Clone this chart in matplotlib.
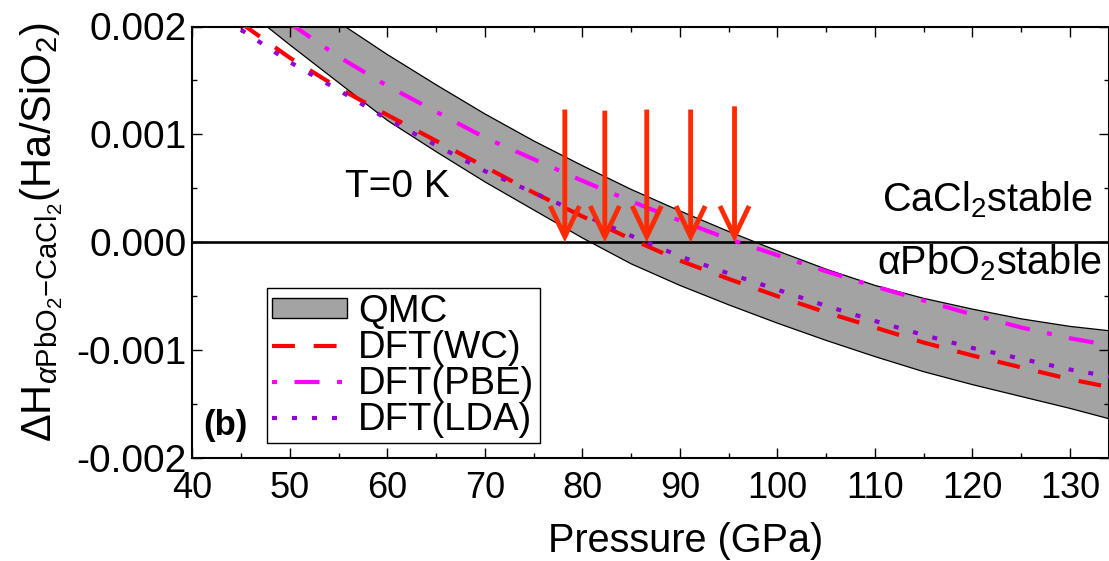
import matplotlib
matplotlib.use("Agg")
import matplotlib.pyplot as plt
from matplotlib.patches import Patch
from matplotlib.lines import Line2D

plt.rcParams['font.family'] = ['Liberation Sans', 'DejaVu Sans']
plt.rcParams['mathtext.fontset'] = 'custom'
plt.rcParams['mathtext.rm'] = 'Liberation Sans'
plt.rcParams['mathtext.it'] = 'Liberation Sans:italic'
plt.rcParams['mathtext.bf'] = 'Liberation Sans:bold'

# ---- data ----
pressure = [45, 50, 55, 60, 65, 70, 75, 80, 85, 90, 95, 100, 105, 110, 115, 120, 125, 130, 135]
qmc_upper = [0.00270, 0.00236, 0.00204, 0.00174, 0.00146, 0.00119, 0.00094, 0.00071, 0.00049,
             0.00029, 0.00010, -0.00008, -0.00025, -0.00040, -0.00052, -0.00062, -0.00071,
             -0.00078, -0.00083]
qmc_lower = [0.00219, 0.00183, 0.00148, 0.00113, 0.00084, 0.00056, 0.00030, 0.00004, -0.00020,
             -0.00040, -0.00058, -0.00075, -0.00091, -0.00106, -0.00120, -0.00132, -0.00143,
             -0.00154, -0.00166]
dft_wc = [0.00203, 0.00171, 0.00143, 0.00118, 0.00094, 0.00070, 0.00046, 0.00024, 0.00003,
          -0.00017, -0.00034, -0.00050, -0.00065, -0.00079, -0.00093, -0.00105, -0.00116,
          -0.00127, -0.00136]
dft_lda = [0.00197, 0.00167, 0.00141, 0.00114, 0.00090, 0.00066, 0.00046, 0.00026, 0.00006,
           -0.00013, -0.00029, -0.00044, -0.00059, -0.00073, -0.00086, -0.00098, -0.00108,
           -0.00118, -0.00126]
pbe_pressure = [50, 55, 60, 65, 70, 75, 80, 85, 90, 95, 100, 105, 110, 115, 120, 125, 130, 135]
dft_pbe = [0.00203, 0.00172, 0.00145, 0.00121, 0.00097, 0.00077, 0.00057, 0.00038, 0.00020,
           0.00003, -0.00012, -0.00027, -0.00041, -0.00054, -0.00067, -0.00079, -0.00089,
           -0.00097]
arrow_pressures = [78.2, 82.3, 86.6, 91.1, 95.6]
arrow_tops = [0.00123, 0.00122, 0.00123, 0.00123, 0.00126]

xticks = [40, 50, 60, 70, 80, 90, 100, 110, 120, 130]
yticks = [-0.002, -0.001, 0.0, 0.001, 0.002]
ytick_labels = ["-0.002", "-0.001", "0.000", "0.001", "0.002"]

# ---- figure ----
W, H = 1109, 561
fig = plt.figure(figsize=(W / 100, H / 100), dpi=100)
ax = fig.add_axes([192.3 / W, 1 - 458 / H, (1109 - 192.3) / W, (458 - 26.5) / H])

gray = '#a3a3a3'
ax.fill_between(pressure, qmc_lower, qmc_upper, facecolor=gray, edgecolor='none', zorder=1)
ax.plot(pressure, qmc_upper, color='black', lw=0.9, zorder=2)
ax.plot(pressure, qmc_lower, color='black', lw=0.9, zorder=2)

ax.axhline(0, color='black', lw=1.9, zorder=3)

lw = 3.0
ax.plot(pressure, dft_wc, color='#ff0000', lw=lw, ls=(0, (5.5, 4.5)), zorder=4)
ax.plot(pbe_pressure, dft_pbe, color='#ff00ff', lw=lw, ls=(0, (6, 4.2, 1.2, 4.2)), zorder=4)
ax.plot(pressure, dft_lda, color='#9400d3', lw=lw, ls=(0, (1.2, 3.6)), zorder=5)

arrow_color = '#ff2a00'
for p, top in zip(arrow_pressures, arrow_tops):
    ax.annotate('', xy=(p, 0.0), xytext=(p, top),
                arrowprops=dict(arrowstyle='->,head_length=2.2,head_width=1.05',
                                color=arrow_color, lw=3.5, shrinkA=0, shrinkB=0,
                                joinstyle='miter', capstyle='butt'),
                zorder=6)

ax.set_xlim(40, 134)
ax.set_ylim(-0.002, 0.002)
ax.set_xticks(xticks)
ax.set_xticks(range(45, 135, 10), minor=True)
ax.set_yticks(yticks)
ax.set_yticklabels(ytick_labels)
ax.set_yticks([-0.0015, -0.0005, 0.0005, 0.0015], minor=True)
ax.tick_params(which='both', direction='in', top=True, right=True, width=1.0)
ax.tick_params(which='major', length=7.5)
ax.tick_params(which='minor', length=3.5)
ax.tick_params(axis='y', labelsize=28, pad=4)
ax.tick_params(axis='x', labelsize=26, pad=9)
for s in ax.spines.values():
    s.set_linewidth(1.5)

ax.text(0.2233, 0.628, 'T=0 K', fontsize=28, ha='center', va='center',
        transform=ax.transAxes)
ax.text(0.012, 0.038, '(b)', fontsize=25, fontweight='bold', ha='left', va='bottom',
        transform=ax.transAxes)

ax.text(1093 / W, 1 - 200 / H, r'$\mathrm{CaCl}_2$stable', fontsize=28.5, ha='right',
        va='center', transform=fig.transFigure)
ax.text(1102 / W, 1 - 263 / H, r'α$\mathrm{PbO}_2$stable', fontsize=28.5, ha='right',
        va='center', transform=fig.transFigure)

fig.text(42 / W, 1 - 232 / H,
         r'$\Delta\mathrm{H}_{\alpha\mathrm{PbO}_2\mathrm{-CaCl}_2}\mathrm{(Ha/SiO}_2\mathrm{)}$',
         rotation=90, fontsize=30, ha='center', va='center')
fig.text(686 / W, 1 - 541 / H, 'Pressure (GPa)', fontsize=28.5, ha='center', va='center')

handles = [
    Patch(facecolor=gray, edgecolor='black', lw=1.0),
    Line2D([], [], color='#ff0000', lw=lw, ls=(0, (5.5, 4.5))),
    Line2D([], [], color='#ff00ff', lw=lw, ls=(0, (1.2, 4.2, 6, 4.2))),
    Line2D([], [], color='#9400d3', lw=lw, ls=(0, (1.2, 3.6))),
]
labels = ['QMC', 'DFT(WC)', 'DFT(PBE)', 'DFT(LDA)']
leg = ax.legend(handles, labels, loc='lower left', bbox_to_anchor=(0.0815, 0.035),
                borderaxespad=0, fontsize=27.5, frameon=True, fancybox=False,
                edgecolor='black', framealpha=1, handlelength=1.95, handleheight=0.44,
                handletextpad=0.3, labelspacing=0.0, borderpad=0.14)
leg.get_frame().set_linewidth(1.0)

fig.savefig('out.png', dpi=100)
